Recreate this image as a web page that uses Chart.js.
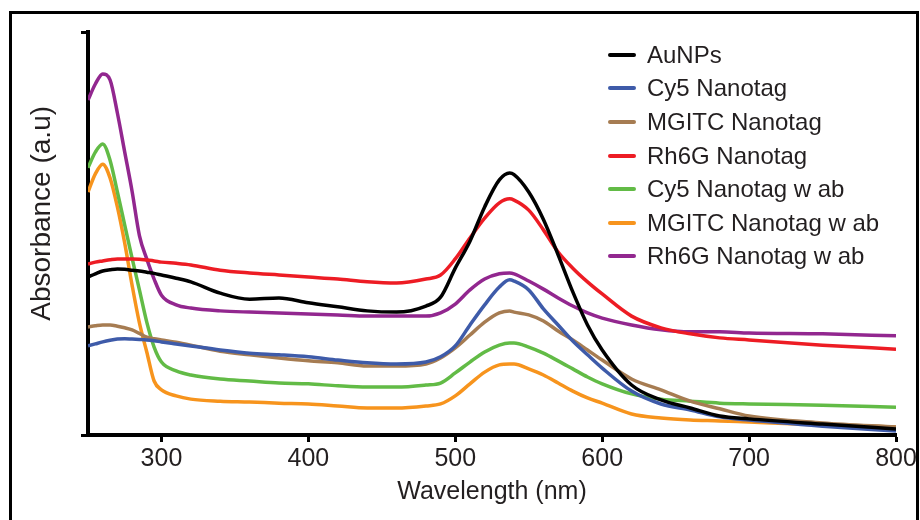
<!DOCTYPE html>
<html>
<head>
<meta charset="utf-8">
<script src="https://cdn.jsdelivr.net/npm/chart.js@4.4.0/dist/chart.umd.min.js"></script>
<style>
  html, body { margin: 0; padding: 0; background: #fff; }
  #wrap { position: relative; width: 920px; height: 520px; overflow: hidden; }
  #frame { position: absolute; left: 9px; top: 11px; width: 910px; height: 540px; border: 3px solid #000; box-sizing: border-box; }
  #uvvis { position: absolute; left: 0; top: 0; }
  #legend { position: absolute; left: 608px; top: 38px; font-family: Arial, "Liberation Sans", sans-serif; font-size: 24px; color: #231f20; }
  #legend .row { height: 33.6px; display: flex; align-items: center; white-space: nowrap; }
  #legend .sw { width: 28px; height: 4px; margin-right: 11px; border-radius: 2px; }
</style>
</head>
<body>
<div id="wrap">
  <div id="frame"></div>
  <canvas id="uvvis" width="920" height="520"></canvas>
  <div id="legend"></div>
</div>
<script>
// wavelength grid (nm)
const wavelengths = [250,255,260,265,270,275,280,285,290,295,300,310,320,340,360,380,400,420,440,460,480,490,500,510,520,530,537,540,550,560,570,580,590,600,620,640,660,680,700,750,800];

// absorbance (a.u.)
const auNPs      = [.392,.400,.407,.410,.412,.411,.409,.407,.404,.401,.397,.389,.380,.352,.337,.340,.328,.318,.308,.305,.320,.342,.414,.481,.566,.633,.650,.646,.603,.535,.447,.355,.273,.211,.124,.087,.067,.047,.040,.027,.015];
const cy5        = [.221,.226,.231,.235,.238,.239,.238,.237,.236,.234,.231,.226,.221,.211,.203,.199,.194,.186,.179,.176,.181,.194,.221,.273,.323,.367,.385,.382,.360,.313,.273,.233,.199,.166,.109,.077,.062,.045,.037,.022,.010];
const mgitc      = [.268,.271,.273,.273,.270,.266,.261,.252,.243,.239,.236,.230,.223,.208,.199,.191,.184,.179,.171,.171,.176,.191,.216,.248,.280,.303,.308,.305,.298,.283,.258,.236,.211,.186,.139,.112,.084,.065,.047,.030,.020];
const rh6g       = [.424,.429,.432,.435,.437,.437,.437,.436,.434,.432,.429,.426,.422,.409,.402,.397,.392,.387,.380,.377,.387,.397,.437,.489,.538,.576,.586,.583,.558,.509,.454,.414,.380,.350,.295,.266,.251,.241,.236,.223,.213];
const cy5Ab      = [.663,.702,.722,.682,.603,.521,.439,.360,.280,.218,.181,.159,.149,.139,.134,.129,.127,.122,.119,.119,.124,.129,.154,.181,.206,.223,.228,.228,.218,.203,.184,.164,.144,.127,.102,.089,.084,.079,.077,.074,.069];
const mgitcAb    = [.603,.648,.672,.638,.566,.476,.372,.278,.206,.134,.112,.097,.089,.084,.082,.079,.077,.072,.067,.067,.072,.077,.097,.127,.156,.174,.176,.176,.164,.149,.129,.109,.092,.079,.052,.042,.037,.035,.032,.025,.020];
const rh6gAb     = [.831,.871,.896,.881,.799,.702,.605,.495,.437,.387,.347,.323,.315,.308,.305,.303,.300,.298,.295,.295,.295,.303,.325,.360,.387,.400,.402,.400,.382,.362,.340,.320,.303,.290,.273,.261,.256,.256,.253,.251,.246];

const seriesNames = ['AuNPs','Cy5 Nanotag','MGITC Nanotag','Rh6G Nanotag','Cy5 Nanotag w ab','MGITC Nanotag w ab','Rh6G Nanotag w ab'];
const seriesData = [auNPs, cy5, mgitc, rh6g, cy5Ab, mgitcAb, rh6gAb];
const seriesColors = ['#000000','#3e5ba9','#a67c52','#ed1c24','#62bb46','#f7941d','#92278f'];

const xTicks = [300,400,500,600,700,800];
const yTicks = [0, 1];
const yTitle = 'Absorbance (a.u)';

const axisFont = { family: 'Arial, "Liberation Sans", sans-serif', size: 25 };

// y axis title drawn a bit above the axis centre, as in the figure
const yTitlePlugin = {
  id: 'yTitle',
  afterDraw(chart) {
    const c = chart.ctx;
    const area = chart.chartArea;
    c.save();
    c.translate(42, area.top + (area.bottom - area.top) * 0.45);
    c.rotate(-Math.PI / 2);
    c.font = '28px Arial, "Liberation Sans", sans-serif';
    c.fillStyle = '#231f20';
    c.textAlign = 'center';
    c.textBaseline = 'middle';
    c.fillText(yTitle, 0, 0);
    c.restore();
  }
};

const ctx = document.getElementById('uvvis').getContext('2d');

const uvChart = new Chart(ctx, {
  type: 'line',
  plugins: [yTitlePlugin],
  data: {
    datasets: seriesNames.map((name, i) => ({
      label: name,
      data: wavelengths.map((w, j) => ({ x: w, y: seriesData[i][j] })),
      borderColor: seriesColors[i],
      backgroundColor: seriesColors[i],
      borderWidth: 3.5,
      pointRadius: 0,
      cubicInterpolationMode: 'monotone',
      fill: false
    }))
  },
  options: {
    responsive: false,
    devicePixelRatio: 1,
    animation: false,
    layout: { padding: { top: 32, right: 24, left: 0, bottom: 0 } },
    scales: {
      x: {
        type: 'linear',
        min: 250,
        max: 800,
        afterBuildTicks: scale => { scale.ticks = xTicks.map(v => ({ value: v })) },
        afterFit: scale => { scale.height = 85 },
        grid: { drawOnChartArea: false, drawTicks: true, tickLength: 7, tickWidth: 3, tickColor: '#000' },
        border: { color: '#000', width: 4 },
        ticks: { color: '#231f20', font: axisFont, padding: 2, maxRotation: 0 },
        title: { display: true, text: 'Wavelength (nm)', color: '#231f20', font: axisFont, padding: { top: 0, bottom: 13 } }
      },
      y: {
        min: 0,
        max: 1,
        afterBuildTicks: scale => { scale.ticks = yTicks.map(v => ({ value: v })) },
        afterFit: scale => { scale.width = 88 },
        grid: { drawOnChartArea: false, drawTicks: true, tickLength: 7, tickWidth: 3, tickColor: '#000' },
        border: { color: '#000', width: 4 },
        ticks: { display: false },
        title: { display: false }
      }
    },
    plugins: {
      legend: { display: false },
      tooltip: { enabled: false }
    }
  }
});

// legend built from the chart's own datasets
const legendBox = document.getElementById('legend');
uvChart.data.datasets.forEach(ds => {
  const row = document.createElement('div');
  row.className = 'row';
  const sw = document.createElement('span');
  sw.className = 'sw';
  sw.style.background = ds.borderColor;
  const txt = document.createElement('span');
  txt.textContent = ds.label;
  row.appendChild(sw);
  row.appendChild(txt);
  legendBox.appendChild(row);
});
</script>
</body>
</html>
